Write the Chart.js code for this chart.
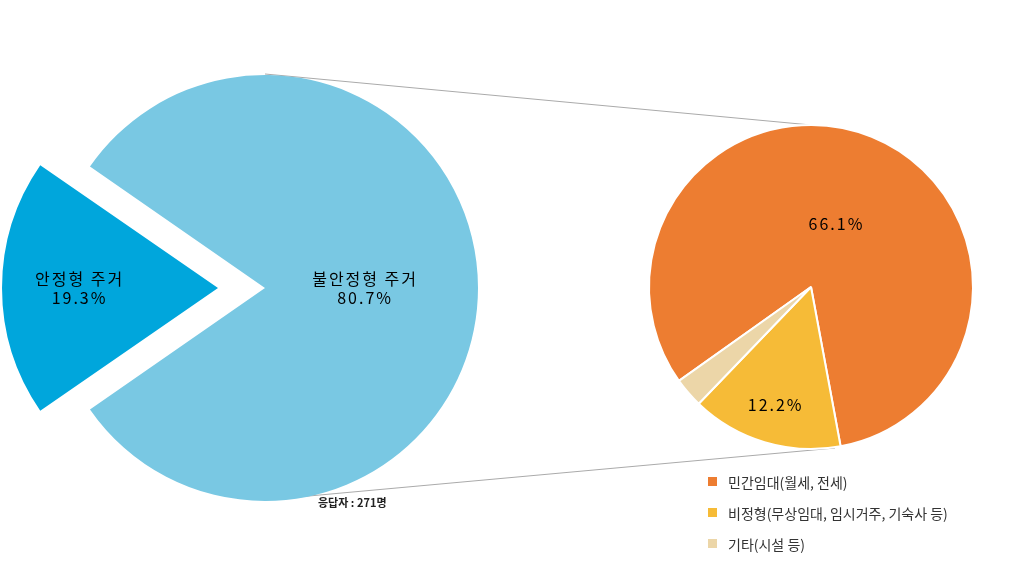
<!DOCTYPE html>
<html><head><meta charset="utf-8">
<script src="https://cdn.jsdelivr.net/npm/chart.js@4"></script>
<style>
body{margin:0;width:1024px;height:576px;background:#fff;position:relative;overflow:hidden;font-family:"Noto Sans CJK KR","Noto Sans",sans-serif}
.c{position:absolute}
#lg{position:absolute;left:708px;top:466px;font-size:14px;color:#333}
#lg div{height:31px;display:flex;align-items:center}
#lg span{display:inline-block;width:9px;height:9px;margin-right:11px}
#note{position:absolute;left:318px;top:494px;font-size:11px;font-weight:bold;color:#222}
</style></head><body>
<svg class="c" style="left:0;top:0" width="1024" height="576">
<line x1="265" y1="74" x2="811" y2="125" stroke="#aaa" stroke-width="1"/>
<line x1="265" y1="500" x2="835" y2="448" stroke="#aaa" stroke-width="1"/>
</svg>
<div class="c" style="left:-35px;top:0;width:600px;height:576px"><canvas id="a"></canvas></div>
<div class="c" style="left:611px;top:87px;width:400px;height:400px"><canvas id="b"></canvas></div>
<div id="note">응답자 : 271명</div>
<div id="lg"></div>
<script>
const mainLabels=["안정형 주거","불안정형 주거"];
const mainValues=[19.3,80.7];
const subLabels=["민간임대(월세, 전세)","비정형(무상임대, 임시거주, 기숙사 등)","기타(시설 등)"];
const subValues=[66.1,12.2,2.4];
const subShown=[true,true,false];
const mainColors=["#00a6dc","#79c8e3"];
const subColors=["#ed7d31","#f6bb37","#ecd6a8"];

const labelPlugin={id:'lbl',afterDatasetsDraw(ch,args,opts){
  const ctx=ch.ctx;const meta=ch.getDatasetMeta(0);
  meta.data.forEach((arc,i)=>{
    if(!opts.show[i])return;
    const p=arc.getProps(['x','y','startAngle','endAngle','outerRadius'],true);
    const m=(p.startAngle+p.endAngle)/2;const off=(arc.options.offset||0)/4;
    const r=p.outerRadius*opts.frac[i]+off;
    const x=p.x+Math.cos(m)*r,y=p.y+Math.sin(m)*r;
    ctx.save();ctx.fillStyle='#000';ctx.font='16px "Noto Sans CJK KR"';ctx.textAlign='center';ctx.textBaseline='middle';
    ctx.letterSpacing='2px';
    const lines=opts.text[i];
    lines.forEach((t,k)=>ctx.fillText(t,x,y+(k-(lines.length-1)/2)*19));
    ctx.restore();
  });
}};
new Chart(document.getElementById('a'),{type:'pie',
 data:{labels:mainLabels,datasets:[{data:mainValues,backgroundColor:mainColors,borderWidth:0,offset:[188,0]}]},
 options:{responsive:true,maintainAspectRatio:false,animation:false,radius:213,rotation:270-mainValues[0]*1.8,
  layout:{padding:0},plugins:{legend:{display:false},tooltip:{enabled:false},
  lbl:{show:[true,true],frac:[0.65,0.47],text:mainLabels.map((l,i)=>[l,mainValues[i].toFixed(1)+'%'])}}},
 plugins:[labelPlugin]});
new Chart(document.getElementById('b'),{type:'pie',
 data:{labels:subLabels,datasets:[{data:subValues,backgroundColor:subColors,borderColor:'#fff',borderWidth:2}]},
 options:{responsive:true,maintainAspectRatio:false,animation:false,radius:162,rotation:234.6,
  plugins:{legend:{display:false},tooltip:{enabled:false},
  lbl:{show:subShown,frac:[0.42,0.76,0.8],text:subValues.map(v=>[v.toFixed(1)+'%'])}}},
 plugins:[labelPlugin]});
document.getElementById('lg').innerHTML=subLabels.map((l,i)=>`<div><span style="background:${subColors[i]}"></span>${l}</div>`).join('');
</script>
</body></html>
